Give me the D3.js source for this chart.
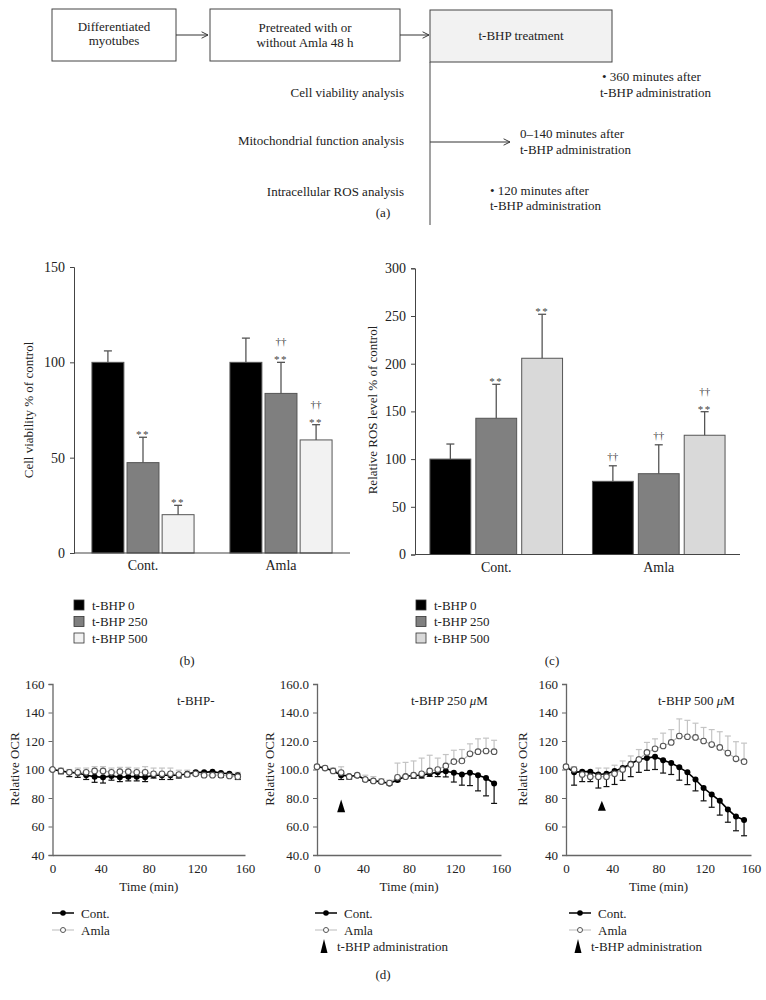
<!DOCTYPE html>
<html><head><meta charset="utf-8">
<script src="https://cdn.jsdelivr.net/npm/d3@7"></script>
<style>
body{margin:0;background:#fff}
svg{font-family:"Liberation Serif","DejaVu Serif",serif;}
</style>
</head><body>
<svg id="chart" width="766" height="1000"></svg>
<script>
// ---------------- DATA ----------------
const groups = ["Cont.", "Amla"];
const doses = ["t-BHP 0", "t-BHP 250", "t-BHP 500"];

const viabTicks = [0, 50, 100, 150];
const viabMean = [[100, 47.4, 20.1], [100, 83.7, 59.3]];
const viabErr  = [[6, 13.3, 4.9], [12.7, 16.3, 8]];
const viabStars   = [[0, 1, 1], [0, 1, 1]];
const viabDaggers = [[0, 0, 0], [0, 1, 1]];

const rosTicks = [0, 50, 100, 150, 200, 250, 300];
const rosMean = [[100, 142.8, 205.7], [76.7, 84.7, 125]];
const rosErr  = [[15.8, 35.6, 46.1], [16.3, 30.3, 24.7]];
const rosStars   = [[0, 1, 1], [0, 0, 1]];
const rosDaggers = [[0, 0, 0], [1, 1, 1]];

const timeTicks = [0, 40, 80, 120, 160];
const ocrTicks = [40, 60, 80, 100, 120, 140, 160];
const times = [0, 7, 14, 21, 28, 35, 42, 49, 56, 63, 70, 77, 84, 91, 98, 105, 112, 119, 126, 133, 140, 147, 154];

const d1Cont    = [100, 99, 98, 97.5, 96, 95, 94.5, 95.5, 94.5, 95, 95, 94.5, 96, 96, 96, 96, 97, 98, 98, 98.5, 97.5, 97, 96];
const d1ContErr = [0, 2, 3, 3, 3, 4, 4, 3, 3, 3, 3, 3, 2, 3, 3, 2, 2, 2, 3, 3, 3, 2, 3];
const d1Amla    = [100, 99, 98, 98, 98, 99, 99, 98, 98.5, 98.5, 98, 98, 97, 97, 97, 96.5, 96.5, 97, 96, 96, 96, 95.5, 95];
const d1AmlaErr = [0, 2, 2, 3, 3, 3, 3, 3, 3, 3, 3, 4, 4, 4, 4, 3, 3, 2, 2, 2, 2, 2, 3];

const d2Cont    = [102, 101, 99, 96, 95.3, 95.8, 93, 92, 91.4, 90.2, 92.6, 95.3, 95.8, 96, 97.2, 98, 98.8, 97.7, 96.5, 97.7, 96, 94, 90.2];
const d2ContErr = [0, 1, 1, 3, 2, 1, 1, 1, 1, 1, 1, 1, 2, 2, 2, 3, 4, 6.5, 7.5, 9, 11, 12.5, 14];
const d2Amla    = [102, 101, 99, 97.9, 95, 96, 93, 92, 91.5, 90.5, 94.5, 95, 96, 97, 99, 100, 102.5, 105.5, 106, 111, 112.5, 113, 112.5];
const d2AmlaErr = [0, 1, 2, 4, 1, 1, 3, 3, 2, 2, 10, 10, 10, 11, 11, 8, 8, 8, 8, 7, 9, 9, 8];

const d3Cont    = [102, 98, 98.5, 98.5, 96.5, 97, 99, 101, 104, 107, 108, 109, 106.5, 104.5, 101.5, 98, 93, 87, 82.5, 78, 72, 67, 64.5];
const d3ContErr = [0, 9, 7, 7, 9.5, 9, 9.5, 8.6, 9, 9, 8.6, 9, 9, 8, 9, 8.6, 8, 9, 9, 10, 9, 10, 11];
const d3Amla    = [102, 100, 96.5, 95, 95, 95, 97, 100, 103.5, 107, 112, 114.5, 116.5, 119, 123.5, 123, 122.5, 120, 117.5, 115.5, 111.5, 107.5, 105.5];
const d3AmlaErr = [0, 2, 3, 4, 6, 6, 6, 6, 6, 7, 7, 7, 9, 9, 12, 11.5, 10, 9.5, 10.5, 11, 12, 12, 13];

// ---------------- DRAW ----------------
const svg = d3.select("#chart");
const AX = "#444";

// ---- (a) flowchart ----
const defs = svg.append("defs");
defs.append("marker").attr("id", "arr").attr("viewBox", "0 0 10 10")
  .attr("refX", 9).attr("refY", 5).attr("markerWidth", 8).attr("markerHeight", 8)
  .attr("orient", "auto").attr("markerUnits", "userSpaceOnUse")
  .append("path").attr("d", "M1,1 L9,5 L1,9").attr("fill", "none").attr("stroke", "#333").attr("stroke-width", 1.2);

const fa = svg.append("g").attr("font-size", 13).attr("fill", "#222");
function box(x, y, w, h, lines, fill, ty) {
  fa.append("rect").attr("x", x).attr("y", y).attr("width", w).attr("height", h)
    .attr("fill", fill).attr("stroke", "#444").attr("stroke-width", 1);
  lines.forEach((t, i) => fa.append("text").attr("x", x + w / 2).attr("y", ty[i])
    .attr("text-anchor", "middle").attr("fill", "#222").text(t));
}
box(52, 9, 124, 52, ["Differentiated", "myotubes"], "#fff", [31, 45]);
box(210, 9, 190, 52, ["Pretreated with or", "without Amla 48 h"], "#fff", [32, 47]);
box(430, 10, 182, 52, ["t-BHP treatment"], "#f2f2f2", [40]);
function arrow(x1, y1, x2, y2) {
  fa.append("line").attr("x1", x1).attr("y1", y1).attr("x2", x2).attr("y2", y2)
    .attr("stroke", "#333").attr("stroke-width", 1).attr("marker-end", "url(#arr)");
}
arrow(176, 35, 208, 35);
arrow(400, 35, 429, 35);
arrow(430, 142, 510, 142);
fa.append("line").attr("x1", 430).attr("y1", 62).attr("x2", 430).attr("y2", 225)
  .attr("stroke", "#444").attr("stroke-width", 1);
const ftxt = [
  [404, 97, "end", "Cell viability analysis"],
  [404, 145, "end", "Mitochondrial function analysis"],
  [404, 196, "end", "Intracellular ROS analysis"],
  [602, 81, "start", "• 360 minutes after"],
  [600, 97, "start", "t-BHP administration"],
  [520, 138, "start", "0–140 minutes after"],
  [520, 154, "start", "t-BHP administration"],
  [490, 195, "start", "• 120 minutes after"],
  [490, 210, "start", "t-BHP administration"],
  [383, 217, "middle", "(a)"]
];
ftxt.forEach(d => fa.append("text").attr("x", d[0]).attr("y", d[1]).attr("text-anchor", d[2]).text(d[3]));

// ---- bar panels ----
function barPanel(o) {
  const g = svg.append("g");
  const y = d3.scaleLinear().domain([0, o.max]).range([o.yb, o.yt]);
  const x = d3.scaleBand().domain(groups).range([o.xl, o.xr]).paddingInner(o.pin).paddingOuter(o.pout);
  const xs = d3.scaleBand().domain(doses).range([0, x.bandwidth()]).paddingInner(o.sp);
  const ya = g.append("g").attr("transform", `translate(${o.xl},0)`)
    .call(d3.axisLeft(y).tickValues(o.ticks).tickSize(4).tickPadding(5));
  ya.select(".domain").attr("stroke", AX);
  ya.selectAll(".tick line").attr("stroke", AX);
  ya.selectAll("text").attr("font-family", "Liberation Serif").attr("font-size", 14).attr("fill", "#222");
  groups.forEach((gr, gi) => {
    doses.forEach((ds, di) => {
      const bx = x(gr) + xs(ds), bw = xs.bandwidth();
      const m = o.mean[gi][di], e = o.err[gi][di];
      g.append("rect").attr("x", bx).attr("y", y(m)).attr("width", bw).attr("height", y(0) - y(m))
        .attr("fill", o.fills[di]).attr("stroke", "#555").attr("stroke-width", 1);
      const cx = bx + bw / 2;
      g.append("line").attr("x1", cx).attr("x2", cx).attr("y1", y(m)).attr("y2", y(m + e))
        .attr("stroke", "#555").attr("stroke-width", 1.3);
      g.append("line").attr("x1", cx - 4).attr("x2", cx + 4).attr("y1", y(m + e)).attr("y2", y(m + e))
        .attr("stroke", "#555").attr("stroke-width", 1.3);
      const top = y(m + e);
      if (o.stars[gi][di]) {
        g.append("text").attr("x", cx).attr("y", top + 1).attr("text-anchor", "middle")
          .attr("font-size", 11).attr("letter-spacing", 1.5).attr("fill", "#444").text("**");
        if (o.daggers[gi][di]) g.append("text").attr("x", cx).attr("y", top - 17).attr("text-anchor", "middle")
          .attr("font-size", 11).attr("fill", "#444").text("††");
      } else if (o.daggers[gi][di]) {
        g.append("text").attr("x", cx).attr("y", top - 6).attr("text-anchor", "middle")
          .attr("font-size", 11).attr("fill", "#444").text("††");
      }
    });
    g.append("text").attr("x", x(gr) + x.bandwidth() / 2).attr("y", o.yb + 17).attr("text-anchor", "middle")
      .attr("font-size", 14).attr("fill", "#222").text(gr);
  });
  g.append("line").attr("x1", o.xl).attr("x2", o.xr).attr("y1", o.yb).attr("y2", o.yb).attr("stroke", AX).attr("stroke-width", 1.2);
  g.append("text").attr("transform", `translate(${o.titleX},${o.titleY}) rotate(-90)`)
    .attr("text-anchor", "middle").attr("font-size", 13).attr("fill", "#222").text(o.title);
  doses.forEach((ds, di) => {
    const ly = 600 + di * 16.5;
    g.append("rect").attr("x", o.lx).attr("y", ly).attr("width", 10).attr("height", 10)
      .attr("fill", o.fills[di]).attr("stroke", "#333").attr("stroke-width", 0.8);
    g.append("text").attr("x", o.lx + 18).attr("y", ly + 9.5).attr("font-size", 13).attr("fill", "#222").text(ds);
  });
  g.append("text").attr("x", o.letterX).attr("y", 665).attr("text-anchor", "middle").attr("font-size", 13).attr("fill", "#222").text(o.letter);
}

barPanel({
  max: 150, yb: 553, yt: 267, xl: 74, xr: 350, pin: 0.26, pout: 0.13, sp: 0.09,
  ticks: viabTicks, mean: viabMean, err: viabErr, stars: viabStars, daggers: viabDaggers,
  fills: ["#000", "#7f7f7f", "#f2f2f2"], title: "Cell viability % of control", titleX: 33, titleY: 410,
  lx: 74, letter: "(b)", letterX: 187
});
barPanel({
  max: 300, yb: 554.5, yt: 268.3, xl: 415, xr: 740, pin: 0.184, pout: 0.092, sp: 0.11,
  ticks: rosTicks, mean: rosMean, err: rosErr, stars: rosStars, daggers: rosDaggers,
  fills: ["#000", "#808080", "#d9d9d9"], title: "Relative ROS level % of control", titleX: 377, titleY: 410,
  lx: 416, letter: "(c)", letterX: 552
});

// ---- line panels ----
function linePanel(o) {
  const g = svg.append("g");
  const x = d3.scaleLinear().domain([0, 160]).range([o.xl, o.xr]);
  const y = d3.scaleLinear().domain([40, 160]).range([855, 684]);
  const ya = g.append("g").attr("transform", `translate(${o.xl},0)`)
    .call(d3.axisLeft(y).tickValues(ocrTicks).tickSize(4).tickPadding(4).tickFormat(d3.format(o.fmt)));
  ya.select(".domain").attr("stroke", "#666").attr("stroke-width", 1.3);
  ya.selectAll(".tick line").attr("stroke", "#666");
  ya.selectAll("text").attr("font-family", "Liberation Serif").attr("font-size", 13).attr("fill", "#222");
  const xa = g.append("g").attr("transform", `translate(0,855)`)
    .call(d3.axisBottom(x).tickValues(timeTicks).tickSize(0).tickPadding(9));
  xa.select(".domain").attr("stroke", "#666").attr("stroke-width", 1.3);
  xa.selectAll("text").attr("font-family", "Liberation Serif").attr("font-size", 13).attr("fill", "#222");
  g.append("text").attr("x", (o.xl + o.xr) / 2).attr("y", 891).attr("text-anchor", "middle")
    .attr("font-size", 13).attr("fill", "#222").text("Time (min)");
  g.append("text").attr("transform", `translate(${o.ylx},769) rotate(-90)`).attr("text-anchor", "middle")
    .attr("font-size", 13).attr("fill", "#222").text("Relative OCR");
  const t = g.append("text").attr("x", o.tx).attr("y", 705).attr("font-size", 13).attr("fill", "#222");
  t.append("tspan").text(o.title);
  if (o.unit) { t.append("tspan").attr("font-style", "italic").text(" μ"); t.append("tspan").text("M"); }

  function errs(vals, e, dir, col) {
    times.forEach((tm, i) => {
      if (!e[i]) return;
      const cx = x(tm), y1 = y(vals[i]), y2 = y(vals[i] + dir * e[i]);
      g.append("line").attr("x1", cx).attr("x2", cx).attr("y1", y1).attr("y2", y2).attr("stroke", col).attr("stroke-width", 1.2);
      g.append("line").attr("x1", cx - 3).attr("x2", cx + 3).attr("y1", y2).attr("y2", y2).attr("stroke", col).attr("stroke-width", 1.2);
    });
  }
  errs(o.amla, o.amlaErr, 1, "#c4c4c4");
  errs(o.cont, o.contErr, -1, "#111");
  const line = d3.line().x((d, i) => x(times[i])).y(d => y(d));
  g.append("path").attr("d", line(o.amla)).attr("fill", "none").attr("stroke", "#bbb").attr("stroke-width", 1.2);
  g.append("path").attr("d", line(o.cont)).attr("fill", "none").attr("stroke", "#000").attr("stroke-width", 1.6);
  g.selectAll(null).data(o.cont).enter().append("circle")
    .attr("cx", (d, i) => x(times[i])).attr("cy", d => y(d)).attr("r", 3).attr("fill", "#000");
  g.selectAll(null).data(o.amla).enter().append("circle")
    .attr("cx", (d, i) => x(times[i])).attr("cy", d => y(d)).attr("r", 2.8)
    .attr("fill", "#fff").attr("stroke", "#555").attr("stroke-width", 1.1);
  if (o.tri !== undefined) {
    const tx = x(o.tri);
    g.append("path").attr("d", `M${tx},${y(o.triTop)} L${tx - 4},${y(o.triBot)} L${tx + 4},${y(o.triBot)} Z`).attr("fill", "#000");
  }
  const lx = o.lgx;
  g.append("line").attr("x1", lx).attr("x2", lx + 22).attr("y1", 913).attr("y2", 913).attr("stroke", "#000").attr("stroke-width", 1.5);
  g.append("circle").attr("cx", lx + 11).attr("cy", 913).attr("r", 2.8).attr("fill", "#000");
  g.append("text").attr("x", lx + 29).attr("y", 917.5).attr("font-size", 13).attr("fill", "#222").text("Cont.");
  g.append("line").attr("x1", lx).attr("x2", lx + 22).attr("y1", 930).attr("y2", 930).attr("stroke", "#bbb").attr("stroke-width", 1);
  g.append("circle").attr("cx", lx + 11).attr("cy", 930).attr("r", 2.5).attr("fill", "#fff").attr("stroke", "#555");
  g.append("text").attr("x", lx + 29).attr("y", 934.5).attr("font-size", 13).attr("fill", "#222").text("Amla");
  if (o.tri !== undefined) {
    const px = lx + 9;
    g.append("path").attr("d", `M${px},939 L${px - 3.5},953 L${px + 3.5},953 Z`).attr("fill", "#000");
    g.append("text").attr("x", lx + 22).attr("y", 951).attr("font-size", 13).attr("fill", "#222").text("t-BHP administration");
  }
}

linePanel({ xl: 52.5, xr: 245, fmt: "d", ylx: 19, tx: 177, title: "t-BHP-",
  cont: d1Cont, contErr: d1ContErr, amla: d1Amla, amlaErr: d1AmlaErr, lgx: 52 });
linePanel({ xl: 317, xr: 501, fmt: ".1f", ylx: 274, tx: 411, title: "t-BHP 250", unit: true,
  cont: d2Cont, contErr: d2ContErr, amla: d2Amla, amlaErr: d2AmlaErr, lgx: 315,
  tri: 21, triTop: 79, triBot: 70 });
linePanel({ xl: 566, xr: 751, fmt: "d", ylx: 527, tx: 658, title: "t-BHP 500", unit: true,
  cont: d3Cont, contErr: d3ContErr, amla: d3Amla, amlaErr: d3AmlaErr, lgx: 569,
  tri: 31, triTop: 78, triBot: 71 });

svg.append("text").attr("x", 383).attr("y", 979).attr("text-anchor", "middle").attr("font-size", 13).attr("fill", "#222").text("(d)");
</script>
</body></html>
